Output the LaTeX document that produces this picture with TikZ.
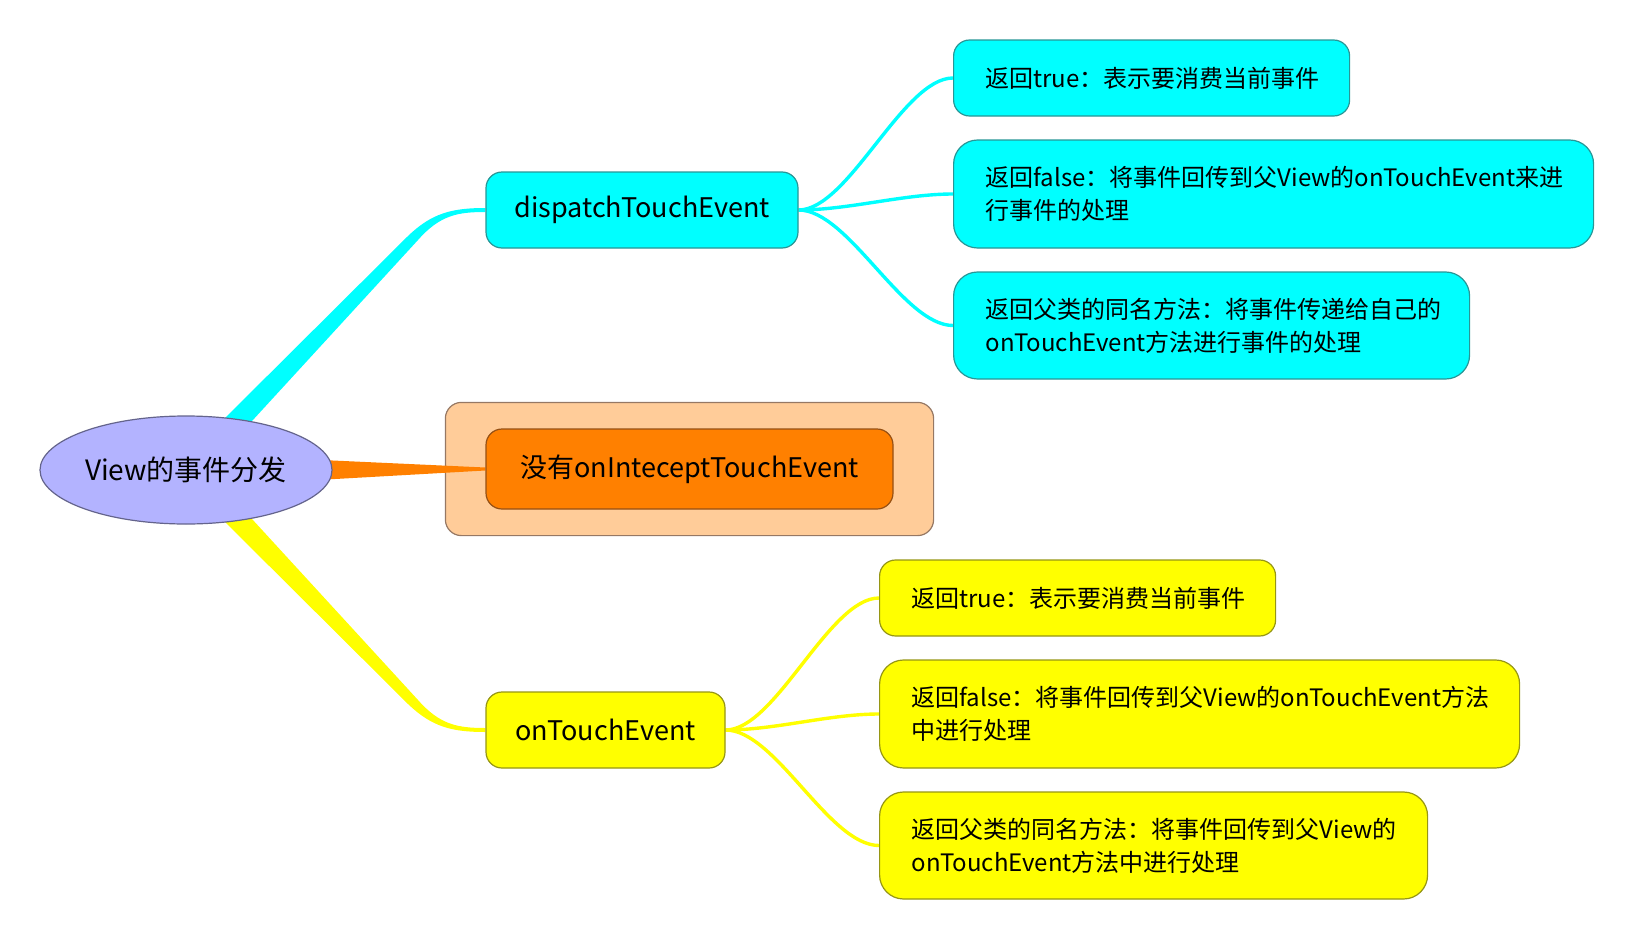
\documentclass[tikz,border=0pt]{standalone}
\usepackage{fontspec}
\setmainfont{Noto Sans CJK SC}
\usetikzlibrary{shapes.geometric,fit,calc}
\definecolor{rootblue}{RGB}{179,179,255}
\definecolor{rootedge}{RGB}{100,100,140}
\definecolor{brcyan}{RGB}{0,255,255}
\definecolor{edgecyan}{RGB}{40,150,150}
\definecolor{bryellow}{RGB}{255,255,0}
\definecolor{edgeyellow}{RGB}{150,150,20}
\definecolor{brorange}{RGB}{255,128,0}
\definecolor{edgeorange}{RGB}{150,80,20}
\definecolor{grppeach}{RGB}{255,204,153}
\definecolor{edgepeach}{RGB}{150,120,100}
\pgfdeclarelayer{back}
\pgfdeclarelayer{links}
\pgfsetlayers{back,links,main}

\begin{document}
\begin{tikzpicture}[x=0.5pt, y=-0.5pt,
  rootnode/.style={ellipse, draw=rootedge, fill=rootblue, line width=0.6pt, inner sep=0pt,
    minimum width=146pt, minimum height=54pt, font=\fontsize{14}{17}\selectfont},
  branch/.style={rounded corners=8pt, line width=0.6pt, minimum height=38pt,
    font=\fontsize{13.5}{17}\selectfont},
  leaf/.style={anchor=west, align=left, line width=0.6pt, inner xsep=16pt,
    font=\fontsize{12}{16.5}\selectfont},
  twig/.style={line width=1.7pt}]
  \useasboundingbox (0,0) rectangle (1634,942);

  \node (root) [rootnode] at (186,470) {View的事件分发};
  \node (dte) [branch, draw=edgecyan, fill=brcyan, minimum width=156pt] at (642,210) {dispatchTouchEvent};
  \node (noint) [branch, draw=edgeorange, fill=brorange, minimum width=203.5pt, minimum height=40pt] at (689.5,469) {没有onInteceptTouchEvent};
  \node (tev) [branch, draw=edgeyellow, fill=bryellow, minimum width=119.5pt] at (605.5,730) {onTouchEvent};

  \node (dc1) [leaf, draw=edgecyan, fill=brcyan, rounded corners=8pt, text width=166pt, minimum height=38pt] at (953,78) {返回true：表示要消费当前事件};
  \node (dc2) [leaf, draw=edgecyan, fill=brcyan, rounded corners=12pt, text width=288pt, minimum height=54pt] at (953,194) {返回false：将事件回传到父View的onTouchEvent来进\\行事件的处理};
  \node (dc3) [leaf, draw=edgecyan, fill=brcyan, rounded corners=12pt, text width=226pt, minimum height=53.5pt] at (953,325.5) {返回父类的同名方法：将事件传递给自己的\\onTouchEvent方法进行事件的处理};

  \node (tc1) [leaf, draw=edgeyellow, fill=bryellow, rounded corners=8pt, text width=166pt, minimum height=38pt] at (879,598) {返回true：表示要消费当前事件};
  \node (tc2) [leaf, draw=edgeyellow, fill=bryellow, rounded corners=12pt, text width=288pt, minimum height=54pt] at (879,714) {返回false：将事件回传到父View的onTouchEvent方法\\中进行处理};
  \node (tc3) [leaf, draw=edgeyellow, fill=bryellow, rounded corners=12pt, text width=242pt, minimum height=53.5pt] at (879,845.5) {返回父类的同名方法：将事件回传到父View的\\onTouchEvent方法中进行处理};

  \begin{pgfonlayer}{back}
    \node (grp) [draw=edgepeach, fill=grppeach, rounded corners=8pt, line width=0.6pt,
      fit=(noint), inner xsep=20pt, inner ysep=13pt] {};
  \end{pgfonlayer}

  \begin{pgfonlayer}{links}
    \fill[brcyan] (222,421) -- (408,236) .. controls (432,213) and (452,208) .. ($(dte.west)+(0,-2)$)
      -- ($(dte.west)+(0,2)$) .. controls (458,212) and (440,215) .. (418,240) -- (252,421) -- cycle;
    \fill[brorange] (300,459) -- ($(noint.west)+(0,-1.5)$) -- ($(noint.west)+(0,1.5)$) -- (300,481) -- cycle;
    \fill[bryellow] (222,519) -- (408,704) .. controls (432,727) and (452,732) .. ($(tev.west)+(0,2)$)
      -- ($(tev.west)+(0,-2)$) .. controls (458,728) and (440,725) .. (418,700) -- (252,519) -- cycle;
    \draw[twig, brcyan] (dte.east) .. controls +(50,0) and +(-50,0) .. (dc1.west);
    \draw[twig, brcyan] (dte.east) .. controls +(50,0) and +(-50,0) .. (dc2.west);
    \draw[twig, brcyan] (dte.east) .. controls +(50,0) and +(-50,0) .. (dc3.west);
    \draw[twig, bryellow] (tev.east) .. controls +(50,0) and +(-50,0) .. (tc1.west);
    \draw[twig, bryellow] (tev.east) .. controls +(50,0) and +(-50,0) .. (tc2.west);
    \draw[twig, bryellow] (tev.east) .. controls +(50,0) and +(-50,0) .. (tc3.west);
  \end{pgfonlayer}
\end{tikzpicture}
\end{document}
